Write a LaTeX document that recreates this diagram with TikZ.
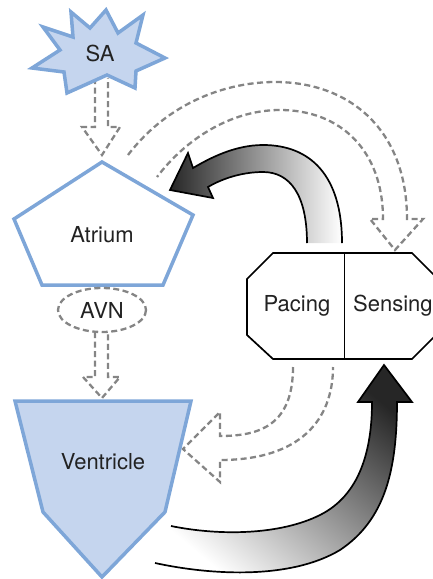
\documentclass[tikz,border=0pt]{standalone}
\usepackage{fontspec}
\setmainfont{TeX Gyre Heros}
\definecolor{bfill}{HTML}{C5D5EE}
\definecolor{bline}{HTML}{7EA6D8}
\definecolor{dgray}{HTML}{858585}
\definecolor{txt}{HTML}{222222}
\begin{document}
\begin{tikzpicture}[x=1pt,y=-1pt,
  shapeline/.style={draw=bline,line width=3.5pt,line join=miter},
  dasharrow/.style={draw=dgray,line width=2.3pt,dash pattern=on 6pt off 3.5pt,line join=miter},
  bigoutline/.style={draw=black,line width=1.7pt,line join=miter},
  lbl/.style={text=txt,font=\fontsize{22}{25}\selectfont,inner sep=0pt}]
\useasboundingbox (0,0) rectangle (433,579);
\clip (0,0) rectangle (433,579);

% dashed hollow arrows
\draw[dasharrow] (95,78) -- (95,127) -- (82,127) -- (102,155) -- (120,127) -- (108,127) -- (108,78);
\draw[dasharrow] (95,332) -- (95,377) -- (83,377) -- (102,398) -- (120,377) -- (108,377) -- (108,332);
\draw[dasharrow] (128,155) .. controls (170,100) and (230,82) .. (275,82)
  .. controls (350,82) and (407,130) .. (407,219) -- (423,219) -- (395,250) -- (370,219) -- (383,219)
  .. controls (383,150) and (340,110) .. (280,110) .. controls (230,110) and (185,140) .. (157,177);
\draw[dasharrow] (293,367) .. controls (293,425) and (260,436) .. (220,436) -- (220,412) -- (183,449)
  -- (220,482) -- (220,460) .. controls (300,460) and (333,420) .. (333,367);

% SA star
\filldraw[shapeline,fill=bfill] (106,10) -- (118,33) -- (143,15) -- (136,43) -- (165,58) -- (136,71)
  -- (135,88) -- (107,75) -- (67,93) -- (64,72) -- (32,68) -- (60,50) -- (43,27) -- (73,37)
  -- (71,12) -- (90,28) -- cycle;
\node[lbl] (sa) at (100,53) {SA};

% Atrium
\filldraw[shapeline,fill=white] (102,162) -- (193,215) -- (163,285) -- (42,285) -- (14,219) -- cycle;
\node[lbl] (atrium) at (102,235) {Atrium};

% AVN
\draw[dasharrow] (102,310) ellipse [x radius=44, y radius=22];
\node[lbl] (avn) at (102,310) {AVN};

% Ventricle
\filldraw[shapeline,fill=bfill] (15,401) -- (191,401) -- (165,512) -- (102,577) -- (43,512) -- cycle;
\node[lbl] (ventricle) at (103,462) {Ventricle};

% Pacing / Sensing box
\filldraw[bigoutline,fill=white] (273,253) -- (412,253) -- (438,279) -- (438,333) -- (412,359)
  -- (273,359) -- (247,335) -- (247,279) -- cycle;
\draw[black,line width=1pt] (344,253) -- (344,359);
\node[lbl] (pacing) at (297,306) {Pacing};
\node[lbl,anchor=west] (sensing) at (353,306) {Sensing};

% big arrow: device to atrium
\shade[left color=black!85, right color=white]
  (342,243) .. controls (342,175) and (310,145) .. (263,145) .. controls (235,145) and (210,158) .. (193,168)
  -- (188,153) -- (170,190) -- (213,198) -- (208,187)
  .. controls (225,177) and (245,172) .. (263,172) .. controls (290,172) and (307,195) .. (307,243) -- cycle;
\draw[bigoutline]
  (342,243) .. controls (342,175) and (310,145) .. (263,145) .. controls (235,145) and (210,158) .. (193,168)
  -- (188,153) -- (170,190) -- (213,198) -- (208,187)
  .. controls (225,177) and (245,172) .. (263,172) .. controls (290,172) and (307,195) .. (307,243);

% big arrow: ventricle to device
\shade[top color=black!85, bottom color=white, shading angle=-40]
  (171,526) .. controls (220,536) and (280,535) .. (320,515) .. controls (360,495) and (372,450) .. (372,402)
  -- (358,402) -- (384,365) -- (412,402) -- (397,402)
  .. controls (397,470) and (385,520) .. (340,550) .. controls (290,580) and (210,575) .. (155,563) -- cycle;
\draw[bigoutline]
  (171,526) .. controls (220,536) and (280,535) .. (320,515) .. controls (360,495) and (372,450) .. (372,402)
  -- (358,402) -- (384,365) -- (412,402) -- (397,402)
  .. controls (397,470) and (385,520) .. (340,550) .. controls (290,580) and (210,575) .. (155,563);
\end{tikzpicture}
\end{document}
